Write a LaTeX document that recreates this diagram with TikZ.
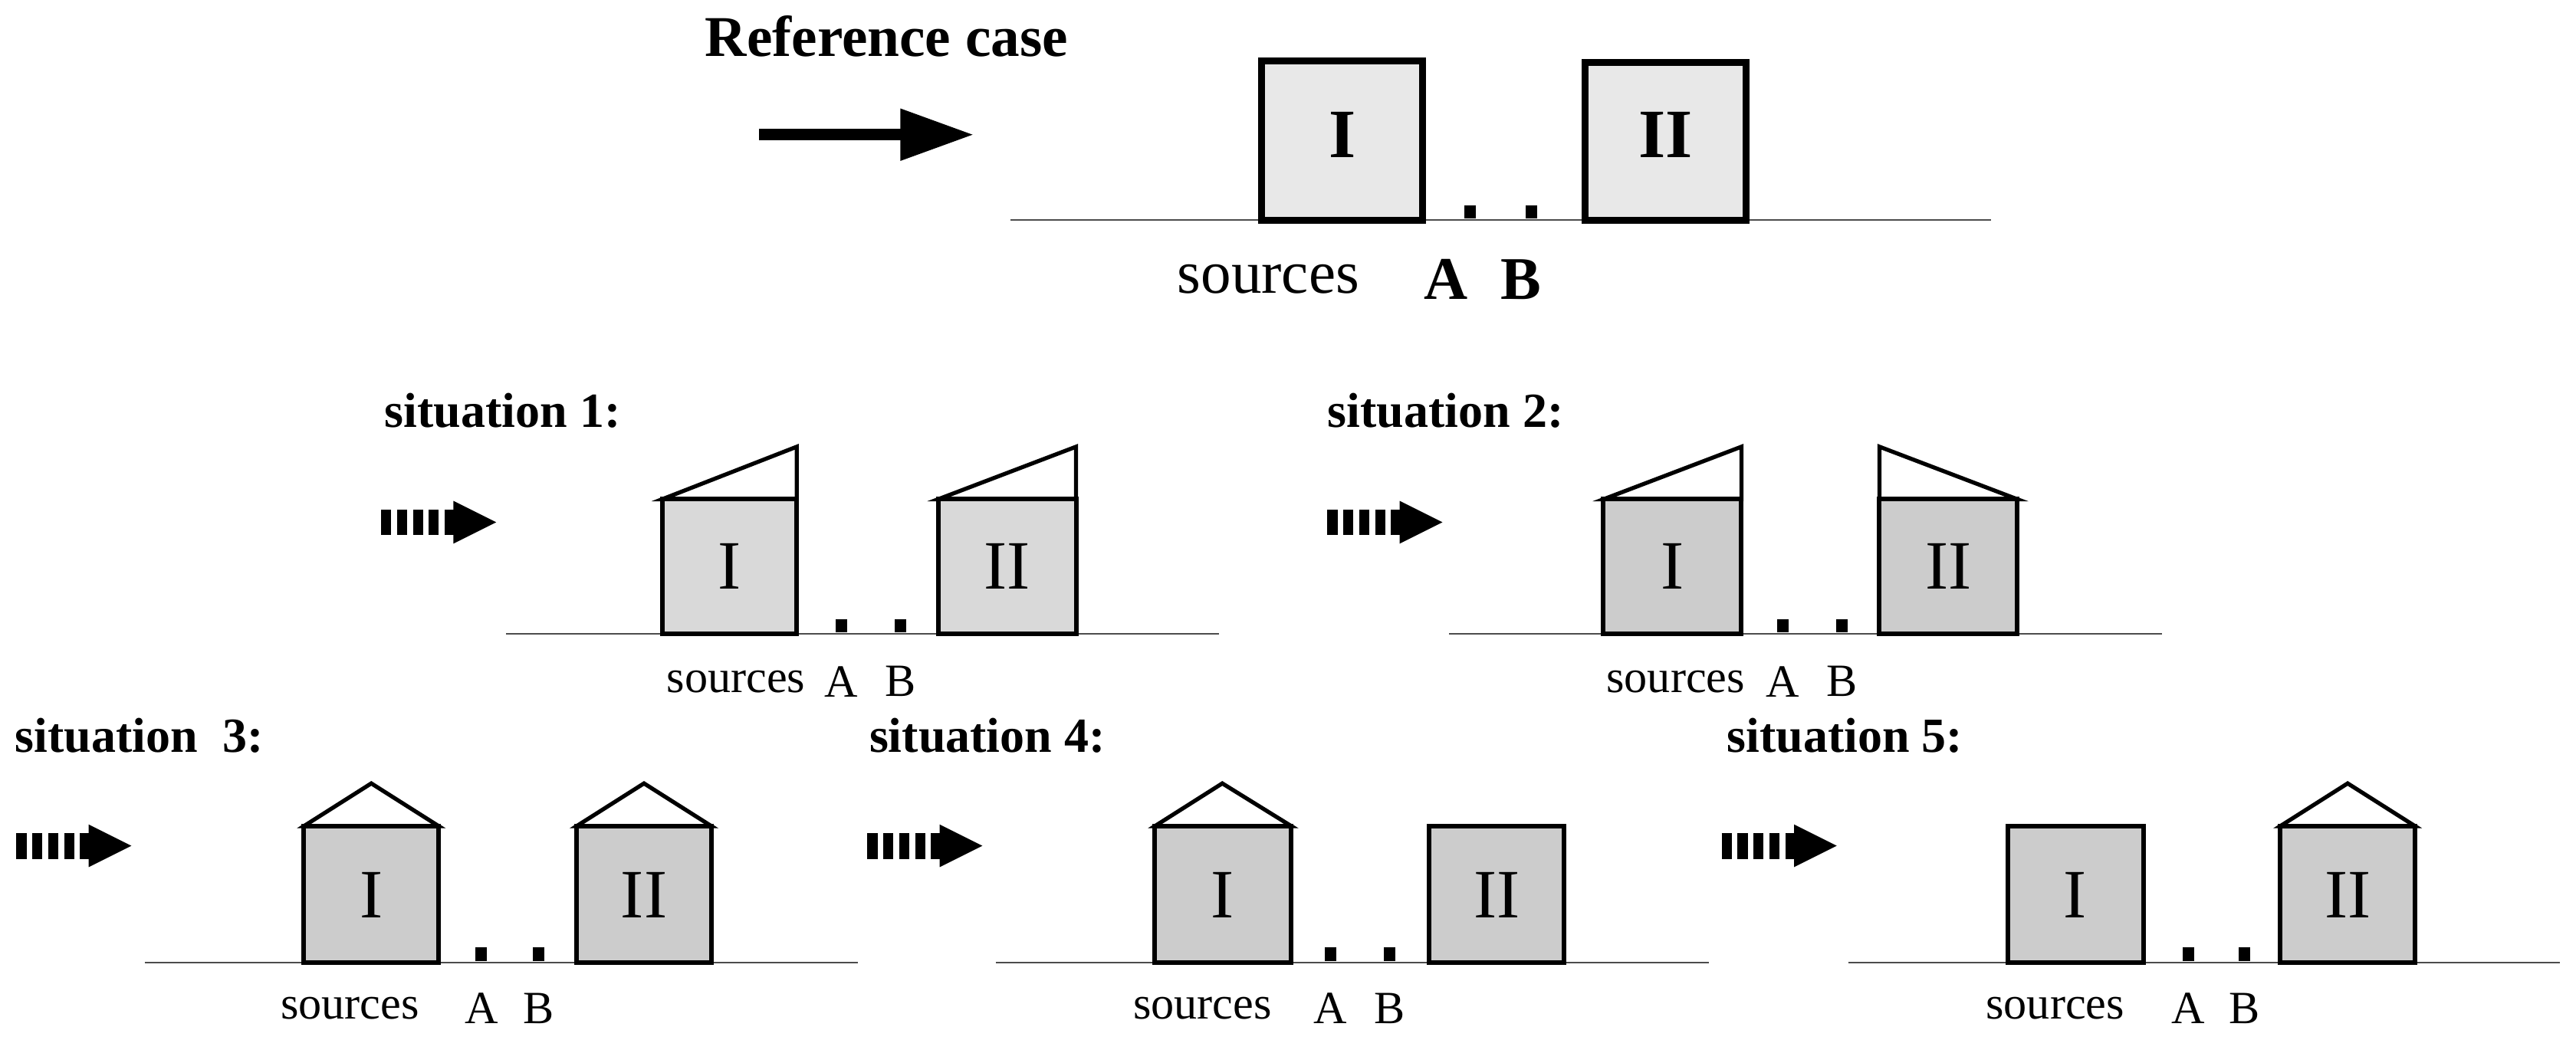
\documentclass[tikz,border=0pt]{standalone}
\usepackage{fontspec}
\setmainfont{Liberation Serif}
\begin{document}
\begin{tikzpicture}[x=0.02cm,y=-0.02cm,
  box/.style={draw,line width=1.6pt,fill=#1},
  box/.default={gray!30},
  roof/.style={draw,line width=1.4pt,fill=white,line join=miter},
  ground/.style={line width=0.5pt,gray!60!black},
  lab/.style={font=\fontsize{16}{16}\selectfont},
  num/.style={font=\fontsize{24}{24}\selectfont},
  sit/.style={font=\bfseries\fontsize{17}{17}\selectfont,anchor=west}]
\useasboundingbox (0,0) rectangle (1568,633);
\newcommand{\mydasharrow}[2]{%
  \draw[line width=9pt,dash pattern=on 3.5pt off 2pt] (#1,#2) -- ++(46,0);
  \fill (#1+44,#2-13) -- (#1+70,#2) -- (#1+44,#2+13) -- cycle;}
\newcommand{\srcdots}[3]{\fill (#1-3.5,#3-8) rectangle (#1+3.5,#3); \fill (#2-3.5,#3-8) rectangle (#2+3.5,#3);}
\newcommand{\srclabels}[4]{%
  \node[lab] at (#1,#4) {sources}; \node[lab] at (#2,#4) {A}; \node[lab] at (#3,#4) {B};}
% Reference case
\node[font=\bfseries\fontsize{20}{20}\selectfont,anchor=west] (rc) at (423,22) {Reference case};
\coordinate (ra) at (462,82); \coordinate (rb) at (592,82);
\draw[line width=4pt] (ra) -- (550,82);
\fill (548,66) -- (rb) -- (548,98) -- cycle;
\draw[ground] (615,134) -- (1212,134);
\draw[box={gray!18},line width=2.4pt] (768,37) rectangle (866,134);
\node[font=\bfseries\fontsize{24}{24}\selectfont] at (817,82) {I};
\draw[box={gray!18},line width=2.4pt] (965,38) rectangle (1063,134);
\node[font=\bfseries\fontsize{24}{24}\selectfont] at (1014,82) {II};
\srcdots{895}{932}{133}
\node[font=\fontsize{21}{21}\selectfont] at (772,170) {sources};
\node[font=\bfseries\fontsize{21}{21}\selectfont] at (880,170) {A};
\node[font=\bfseries\fontsize{21}{21}\selectfont] at (926,170) {B};
% Situation 1
\node[sit] at (228,250) {situation 1:};
\mydasharrow{232}{318}
\draw[ground] (308,386) -- (742,386);
\draw[roof] (403,304) -- (485,272) -- (485,304) -- cycle;
\draw[box] (403,304) rectangle (485,386); \node[num] at (444,345) {I};
\draw[roof] (571,304) -- (655,272) -- (655,304) -- cycle;
\draw[box] (571,304) rectangle (655,386); \node[num] at (613,345) {II};
\srcdots{512}{548}{385}
\srclabels{448}{512}{548}{415}
% Situation 2
\node[sit] at (802,250) {situation 2:};
\mydasharrow{808}{318}
\draw[ground] (882,386) -- (1316,386);
\draw[roof] (976,304) -- (1060,272) -- (1060,304) -- cycle;
\draw[box={gray!40}] (976,304) rectangle (1060,386); \node[num] at (1018,345) {I};
\draw[roof] (1144,272) -- (1228,304) -- (1144,304) -- cycle;
\draw[box={gray!40}] (1144,304) rectangle (1228,386); \node[num] at (1186,345) {II};
\srcdots{1085}{1121}{385}
\srclabels{1020}{1085}{1121}{415}
% Situation 3
\node[sit] at (3,448) {situation\ \ 3:};
\mydasharrow{10}{515}
\draw[ground] (88,586) -- (522,586);
\draw[roof] (185,503) -- (226,477) -- (267,503) -- cycle;
\draw[box={gray!40}] (185,503) rectangle (267,586); \node[num] at (226,545) {I};
\draw[roof] (351,503) -- (392,477) -- (433,503) -- cycle;
\draw[box={gray!40}] (351,503) rectangle (433,586); \node[num] at (392,545) {II};
\srcdots{293}{328}{585}
\srclabels{213}{293}{328}{614}
% Situation 4
\node[sit] at (523,448) {situation 4:};
\mydasharrow{528}{515}
\draw[ground] (606,586) -- (1040,586);
\draw[roof] (703,503) -- (744,477) -- (786,503) -- cycle;
\draw[box={gray!40}] (703,503) rectangle (786,586); \node[num] at (744,545) {I};
\draw[box={gray!40}] (870,503) rectangle (952,586); \node[num] at (911,545) {II};
\srcdots{810}{846}{585}
\srclabels{732}{810}{846}{614}
% Situation 5
\node[sit] at (1045,448) {situation 5:};
\mydasharrow{1048}{515}
\draw[ground] (1125,586) -- (1558,586);
\draw[box={gray!40}] (1222,503) rectangle (1305,586); \node[num] at (1263,545) {I};
\draw[roof] (1388,503) -- (1429,477) -- (1470,503) -- cycle;
\draw[box={gray!40}] (1388,503) rectangle (1470,586); \node[num] at (1429,545) {II};
\srcdots{1332}{1366}{585}
\srclabels{1251}{1332}{1366}{614}
\end{tikzpicture}
\end{document}
